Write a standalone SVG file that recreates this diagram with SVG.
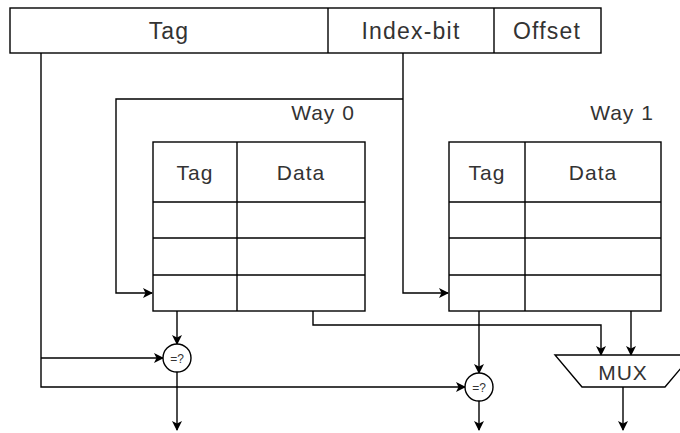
<svg xmlns="http://www.w3.org/2000/svg" width="680" height="433" viewBox="0 0 680 433">
  <style>
    .box { fill: #ffffff; stroke: #000000; stroke-width: 1.4; }
    .grid { fill: none; stroke: #000000; stroke-width: 1.4; }
    .wire { fill: none; stroke: #000000; stroke-width: 1.4; }
    .lbl { font-family: "Liberation Sans", Arial, sans-serif; fill: #333333; text-anchor: middle; dominant-baseline: central; }
    .big { font-size: 23px; letter-spacing: 1.2px; }
    .mid { font-size: 21px; letter-spacing: 1px; }
    .tiny { font-size: 12px; }
  </style>
  <defs>
    <marker id="arrow" viewBox="0 0 10 10" refX="9" refY="5" markerWidth="10" markerHeight="10" markerUnits="userSpaceOnUse" orient="auto">
      <path d="M0,0 L10,5 L0,10 L2.5,5 Z" fill="#000000"/>
    </marker>
  </defs>

  <!-- address fields -->
  <g id="address">
    <rect class="box" x="10" y="8" width="591" height="45"/>
    <line class="grid" x1="328" y1="8" x2="328" y2="53"/>
    <line class="grid" x1="494" y1="8" x2="494" y2="53"/>
    <text class="lbl big" x="169" y="31">Tag</text>
    <text class="lbl big" x="411" y="31">Index-bit</text>
    <text class="lbl big" x="547" y="31">Offset</text>
  </g>

  <!-- way 0 array -->
  <g id="way0">
    <text class="lbl mid" x="323" y="112">Way 0</text>
    <rect class="box" x="153" y="142" width="212" height="169"/>
    <line class="grid" x1="237" y1="142" x2="237" y2="311"/>
    <line class="grid" x1="153" y1="202" x2="365" y2="202"/>
    <line class="grid" x1="153" y1="238" x2="365" y2="238"/>
    <line class="grid" x1="153" y1="275" x2="365" y2="275"/>
    <text class="lbl mid" x="195" y="172">Tag</text>
    <text class="lbl mid" x="301" y="172">Data</text>
  </g>

  <!-- way 1 array -->
  <g id="way1">
    <text class="lbl mid" x="622" y="112">Way 1</text>
    <rect class="box" x="449" y="142" width="212" height="169"/>
    <line class="grid" x1="525" y1="142" x2="525" y2="311"/>
    <line class="grid" x1="449" y1="202" x2="661" y2="202"/>
    <line class="grid" x1="449" y1="238" x2="661" y2="238"/>
    <line class="grid" x1="449" y1="275" x2="661" y2="275"/>
    <text class="lbl mid" x="487" y="172">Tag</text>
    <text class="lbl mid" x="593" y="172">Data</text>
  </g>

  <!-- connectors -->
  <g id="connectors">
    <!-- index bits select a row in both ways -->
    <path class="wire" d="M403,53 V293 H448" marker-end="url(#arrow)"/>
    <path class="wire" d="M403,99 H116 V293 H152" marker-end="url(#arrow)"/>
    <!-- address tag to both comparators -->
    <path class="wire" d="M41,53 V387 H465" marker-end="url(#arrow)"/>
    <path class="wire" d="M41,358 H163" marker-end="url(#arrow)"/>
    <!-- stored tags to comparators -->
    <path class="wire" d="M177,311 V344" marker-end="url(#arrow)"/>
    <path class="wire" d="M479,311 V373" marker-end="url(#arrow)"/>
    <!-- data to mux -->
    <path class="wire" d="M313,311 V325 H601 V355" marker-end="url(#arrow)"/>
    <path class="wire" d="M631,311 V355" marker-end="url(#arrow)"/>
    <!-- outputs -->
    <path class="wire" d="M177,372 V430" marker-end="url(#arrow)"/>
    <path class="wire" d="M479,401 V430" marker-end="url(#arrow)"/>
    <path class="wire" d="M623,387 V430" marker-end="url(#arrow)"/>
  </g>

  <!-- comparators -->
  <g id="cmp0">
    <circle class="box" cx="177" cy="358" r="14"/>
    <text class="lbl tiny" x="177" y="359">=?</text>
  </g>
  <g id="cmp1">
    <circle class="box" cx="479" cy="387" r="14"/>
    <text class="lbl tiny" x="479" y="388">=?</text>
  </g>

  <!-- multiplexer -->
  <g id="mux">
    <polygon class="box" points="555,355 692,355 665,387 582,387"/>
    <text class="lbl mid" x="623" y="372">MUX</text>
  </g>
</svg>
